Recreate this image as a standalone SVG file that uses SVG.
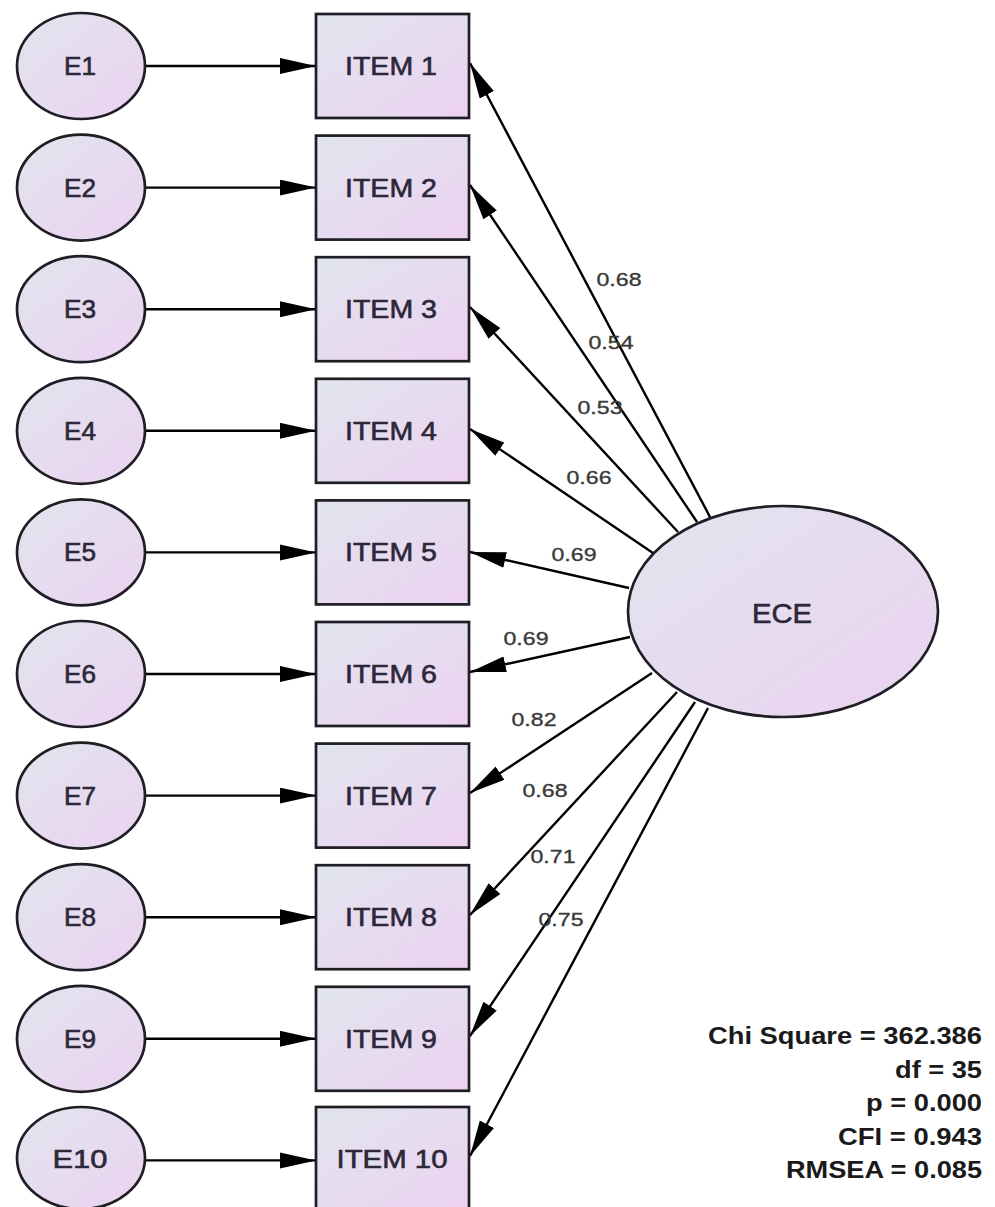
<svg xmlns="http://www.w3.org/2000/svg" width="995" height="1207" viewBox="0 0 995 1207">
<defs>
<linearGradient id="fillg" x1="0" y1="0" x2="1" y2="1">
<stop offset="0" stop-color="#e1e5ee"/>
<stop offset="1" stop-color="#ecd2f1"/>
</linearGradient>
<marker id="arr" markerUnits="userSpaceOnUse" markerWidth="38" markerHeight="17" refX="36" refY="8" orient="auto">
<path d="M0,0 L36,8 L0,16 Z" fill="#000"/>
</marker>
</defs>
<style>
.node{fill:url(#fillg);stroke:#1e1e24;stroke-width:2.7}
.lbl{font-family:"Liberation Sans",Arial,sans-serif;font-size:25px;fill:#2d2838;stroke:#2d2838;stroke-width:0.6;text-anchor:middle}
.big{font-size:28px}
.coef{font-family:"Liberation Sans",Arial,sans-serif;font-size:19px;fill:#3a3a3a;stroke:#3a3a3a;stroke-width:0.35;text-anchor:middle}
.stat{font-family:"Liberation Sans",Arial,sans-serif;font-size:24px;font-weight:bold;fill:#1a1a1a;text-anchor:end}
.conn{stroke:#000;stroke-width:2.4;fill:none;marker-end:url(#arr)}
</style>
<rect width="995" height="1207" fill="#fff"/>
<g id="connectors">
<line class="conn" x1="145" y1="66" x2="316" y2="66"/>
<line class="conn" x1="145" y1="187.6" x2="316" y2="187.6"/>
<line class="conn" x1="145" y1="309.2" x2="316" y2="309.2"/>
<line class="conn" x1="145" y1="430.8" x2="316" y2="430.8"/>
<line class="conn" x1="145" y1="552.4" x2="316" y2="552.4"/>
<line class="conn" x1="145" y1="674" x2="316" y2="674"/>
<line class="conn" x1="145" y1="795.6" x2="316" y2="795.6"/>
<line class="conn" x1="145" y1="917.2" x2="316" y2="917.2"/>
<line class="conn" x1="145" y1="1038.8" x2="316" y2="1038.8"/>
<line class="conn" x1="145" y1="1160.4" x2="316" y2="1160.4"/>
<line class="conn" x1="710" y1="517" x2="470" y2="63"/>
<line class="conn" x1="697" y1="522" x2="470" y2="185"/>
<line class="conn" x1="678" y1="532" x2="470" y2="307"/>
<line class="conn" x1="653" y1="553" x2="470" y2="429"/>
<line class="conn" x1="629" y1="588" x2="470" y2="552"/>
<line class="conn" x1="630" y1="637" x2="470" y2="672"/>
<line class="conn" x1="652" y1="673" x2="470" y2="793"/>
<line class="conn" x1="677" y1="692" x2="470" y2="915"/>
<line class="conn" x1="695" y1="702" x2="470" y2="1036"/>
<line class="conn" x1="708" y1="708" x2="470" y2="1156"/>
</g>
<g id="coefs">
<text class="coef" x="619" y="286" textLength="45" lengthAdjust="spacingAndGlyphs">0.68</text>
<text class="coef" x="611" y="349" textLength="45" lengthAdjust="spacingAndGlyphs">0.54</text>
<text class="coef" x="600" y="414" textLength="45" lengthAdjust="spacingAndGlyphs">0.53</text>
<text class="coef" x="589" y="484" textLength="45" lengthAdjust="spacingAndGlyphs">0.66</text>
<text class="coef" x="574" y="561" textLength="45" lengthAdjust="spacingAndGlyphs">0.69</text>
<text class="coef" x="526" y="645" textLength="45" lengthAdjust="spacingAndGlyphs">0.69</text>
<text class="coef" x="534" y="726" textLength="45" lengthAdjust="spacingAndGlyphs">0.82</text>
<text class="coef" x="545" y="797" textLength="45" lengthAdjust="spacingAndGlyphs">0.68</text>
<text class="coef" x="553" y="863" textLength="45" lengthAdjust="spacingAndGlyphs">0.71</text>
<text class="coef" x="561" y="926" textLength="45" lengthAdjust="spacingAndGlyphs">0.75</text>
</g>
<g id="E1"><ellipse class="node" cx="81" cy="66" rx="64" ry="53"/><text class="lbl" x="80" y="75" textLength="32" lengthAdjust="spacingAndGlyphs">E1</text></g>
<g id="E2"><ellipse class="node" cx="81" cy="187.6" rx="64" ry="53"/><text class="lbl" x="80" y="196.6" textLength="32" lengthAdjust="spacingAndGlyphs">E2</text></g>
<g id="E3"><ellipse class="node" cx="81" cy="309.2" rx="64" ry="53"/><text class="lbl" x="80" y="318.2" textLength="32" lengthAdjust="spacingAndGlyphs">E3</text></g>
<g id="E4"><ellipse class="node" cx="81" cy="430.8" rx="64" ry="53"/><text class="lbl" x="80" y="439.8" textLength="32" lengthAdjust="spacingAndGlyphs">E4</text></g>
<g id="E5"><ellipse class="node" cx="81" cy="552.4" rx="64" ry="53"/><text class="lbl" x="80" y="561.4" textLength="32" lengthAdjust="spacingAndGlyphs">E5</text></g>
<g id="E6"><ellipse class="node" cx="81" cy="674" rx="64" ry="53"/><text class="lbl" x="80" y="683" textLength="32" lengthAdjust="spacingAndGlyphs">E6</text></g>
<g id="E7"><ellipse class="node" cx="81" cy="795.6" rx="64" ry="53"/><text class="lbl" x="80" y="804.6" textLength="32" lengthAdjust="spacingAndGlyphs">E7</text></g>
<g id="E8"><ellipse class="node" cx="81" cy="917.2" rx="64" ry="53"/><text class="lbl" x="80" y="926.2" textLength="32" lengthAdjust="spacingAndGlyphs">E8</text></g>
<g id="E9"><ellipse class="node" cx="81" cy="1038.8" rx="64" ry="53"/><text class="lbl" x="80" y="1047.8" textLength="32" lengthAdjust="spacingAndGlyphs">E9</text></g>
<g id="E10"><ellipse class="node" cx="81" cy="1158" rx="64" ry="51"/><text class="lbl" x="80" y="1168" textLength="55" lengthAdjust="spacingAndGlyphs">E10</text></g>
<g id="ITEM1"><rect class="node" x="316" y="14" width="153" height="104"/><text class="lbl" x="391" y="75" textLength="92" lengthAdjust="spacingAndGlyphs">ITEM 1</text></g>
<g id="ITEM2"><rect class="node" x="316" y="135.6" width="153" height="104"/><text class="lbl" x="391" y="196.6" textLength="92" lengthAdjust="spacingAndGlyphs">ITEM 2</text></g>
<g id="ITEM3"><rect class="node" x="316" y="257.2" width="153" height="104"/><text class="lbl" x="391" y="318.2" textLength="92" lengthAdjust="spacingAndGlyphs">ITEM 3</text></g>
<g id="ITEM4"><rect class="node" x="316" y="378.8" width="153" height="104"/><text class="lbl" x="391" y="439.8" textLength="92" lengthAdjust="spacingAndGlyphs">ITEM 4</text></g>
<g id="ITEM5"><rect class="node" x="316" y="500.4" width="153" height="104"/><text class="lbl" x="391" y="561.4" textLength="92" lengthAdjust="spacingAndGlyphs">ITEM 5</text></g>
<g id="ITEM6"><rect class="node" x="316" y="622" width="153" height="104"/><text class="lbl" x="391" y="683" textLength="92" lengthAdjust="spacingAndGlyphs">ITEM 6</text></g>
<g id="ITEM7"><rect class="node" x="316" y="743.6" width="153" height="104"/><text class="lbl" x="391" y="804.6" textLength="92" lengthAdjust="spacingAndGlyphs">ITEM 7</text></g>
<g id="ITEM8"><rect class="node" x="316" y="865.2" width="153" height="104"/><text class="lbl" x="391" y="926.2" textLength="92" lengthAdjust="spacingAndGlyphs">ITEM 8</text></g>
<g id="ITEM9"><rect class="node" x="316" y="986.8" width="153" height="104"/><text class="lbl" x="391" y="1047.8" textLength="92" lengthAdjust="spacingAndGlyphs">ITEM 9</text></g>
<g id="ITEM10"><rect class="node" x="316" y="1107" width="153" height="104"/><text class="lbl" x="392" y="1168" textLength="111" lengthAdjust="spacingAndGlyphs">ITEM 10</text></g>
<g id="ECE"><ellipse class="node" cx="783" cy="611.5" rx="155" ry="105.5"/><text class="lbl big" x="782" y="623" textLength="60" lengthAdjust="spacingAndGlyphs">ECE</text></g>
<g id="fit">
<text class="stat" x="982" y="1044" textLength="274" lengthAdjust="spacingAndGlyphs">Chi Square = 362.386</text>
<text class="stat" x="982" y="1078" textLength="87" lengthAdjust="spacingAndGlyphs">df = 35</text>
<text class="stat" x="982" y="1111" textLength="116" lengthAdjust="spacingAndGlyphs">p = 0.000</text>
<text class="stat" x="982" y="1145" textLength="144" lengthAdjust="spacingAndGlyphs">CFI = 0.943</text>
<text class="stat" x="982" y="1178" textLength="196" lengthAdjust="spacingAndGlyphs">RMSEA = 0.085</text>
</g>
</svg>
